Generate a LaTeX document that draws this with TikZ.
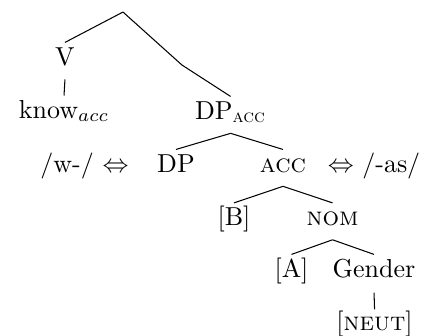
\documentclass[tikz,border=0pt]{standalone}
\usepackage{amsmath}
\usepackage{amssymb}
\usepackage{tikz}

\begin{document}
\begin{tikzpicture}[
    lab/.style={anchor=base, inner xsep=1pt, inner ysep=0pt, text height=8.5pt, text depth=5.3pt},
    branch/.style={thin}
]
\useasboundingbox (0,0) rectangle (5.723,4.533);

% Upper part of the tree
\coordinate (root) at (1.664,4.370);
\coordinate (mid) at (2.462,3.653);
\node[lab] (v) at (0.879,3.653) {V};
\node[lab] (know) at (0.866,2.935) {know$_{acc}$};
\node[lab] (dpacc) at (3.120,2.922) {DP$_{\textsc{acc}}$};

% Spell-out row
\node[lab] (wform) at (1.143,2.205) {/w-/ $\Leftrightarrow$};
\node[lab] (dp) at (2.381,2.205) {DP};
\node[lab] (acc) at (3.829,2.205) {\textsc{acc}};
\node[lab] (asform) at (5.060,2.205) {$\Leftrightarrow$ /-as/};

% Lower part of the tree
\node[lab] (b) at (3.166,1.482) {[B]};
\node[lab] (nom) at (4.499,1.482) {\textsc{nom}};
\node[lab] (a) at (3.944,0.785) {[A]};
\node[lab] (gender) at (5.060,0.785) {Gender};
\node[lab] (neut) at (5.067,0.068) {[\textsc{neut}]};

% Branches
\draw[branch] (root) -- (v.north);
\draw[branch] (root) -- (mid) -- (dpacc.north);
\draw[branch] (v.south) -- (know.north);
\draw[branch] (dpacc.south) -- (dp.north);
\draw[branch] (dpacc.south) -- (acc.north);
\draw[branch] (acc.south) -- (b.north);
\draw[branch] (acc.south) -- (nom.north);
\draw[branch] (nom.south) -- (a.north);
\draw[branch] (nom.south) -- (gender.north);
\draw[branch, shorten <=0.5pt, shorten >=-0.8pt] (gender.south) -- (neut.north);

\end{tikzpicture}
\end{document}
